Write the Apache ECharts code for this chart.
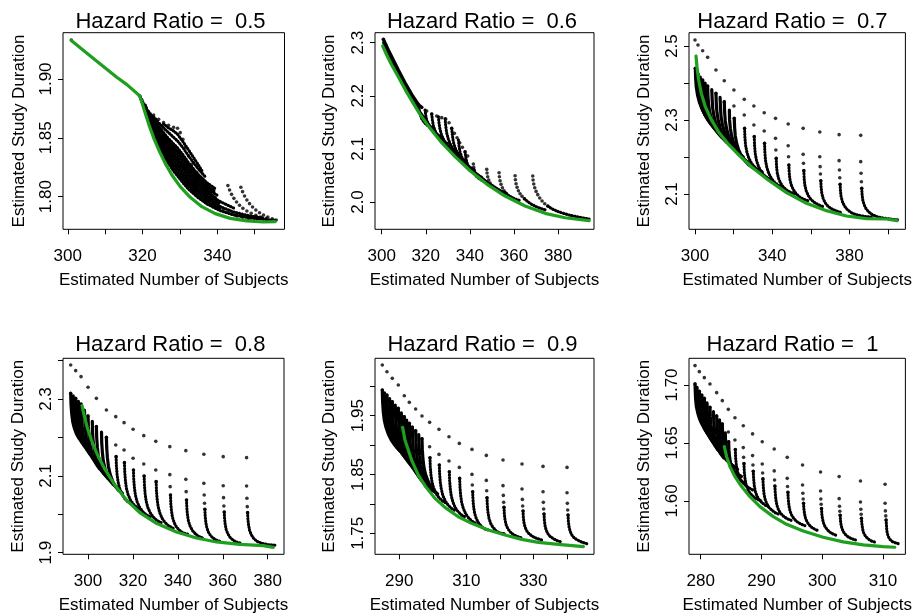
<!DOCTYPE html>
<html>
<head>
<meta charset="utf-8">
<script src="https://cdn.jsdelivr.net/npm/echarts@6/dist/echarts.min.js"></script>
<style>
html,body{margin:0;padding:0;background:#fff;}
#chart{width:914px;height:616px;}
</style>
</head>
<body>
<div id="chart"></div>
<script>
// ---------- panel meta ----------
const hazardRatios = ['0.5','0.6','0.7','0.8','0.9','1'];
const xRanges = [[298.72,357.97],[296.96,396.3],[296.9,409.0],[288.85,387.27],[282.75,348.1],[278.08,313.68]];
const yRanges = [[1.7723,1.9393],[1.9486,2.3188],[2.0046,2.536],[1.8958,2.4059],[1.7143,2.0476],[1.554,1.723]];
const xTicks = [[300,310,320,330,340,350],[300,320,340,360,380],[300,320,340,360,380,400],[300,320,340,360,380],[290,300,310,320,330,340],[280,290,300,310]];
const xTickLabels = [[300,320,340],[300,320,340,360,380],[300,340,380],[300,320,340,360,380],[290,310,330],[280,290,300,310]];
const yTicks = [[1.80,1.85,1.90],[2.0,2.1,2.2,2.3],[2.1,2.2,2.3,2.4,2.5],[1.9,2.0,2.1,2.2,2.3,2.4],[1.75,1.80,1.85,1.90,1.95,2.00],[1.60,1.65,1.70]];
const yTickLabels = [['1.80','1.85','1.90'],['2.0','2.1','2.2','2.3'],['2.1','2.3','2.5'],['1.9','2.1','2.3'],['1.75','1.85','1.95'],['1.60','1.65','1.70']];

// ---------- panel 1 (HR 0.5) ----------
const green1 = [[300.94,1.9326],[305.12,1.9218],[308.69,1.9127],[313.1,1.9014],[315.82,1.8952],[319.21,1.8858],[319.83,1.8802],[320.72,1.8708],[321.88,1.8595],[323.13,1.8487],[324.55,1.8383],[326.07,1.8283],[327.85,1.8184],[330.08,1.8085],[332.75,1.7995],[335.87,1.7915],[339.44,1.7856],[343.45,1.7816],[347.91,1.7794],[352.36,1.7785],[355.48,1.7788]];
const dots1 = [[300.94,1.9331],
[322.95,1.8694],[324.29,1.8657],[325.62,1.8629],[326.96,1.8606],[328.3,1.8589],[329.37,1.8581],[330.08,1.8544],[330.79,1.8487],[331.51,1.8419],[332.31,1.8346],[333.2,1.8275],[334.54,1.8204],[335.87,1.8153],
[337.21,1.8108],[337.66,1.8071],[338.1,1.8034],[338.64,1.8],[339.26,1.7969],[339.97,1.7941],[340.78,1.7915],[341.67,1.7893],[342.74,1.787],[343.89,1.7853],[345.23,1.7836],[346.75,1.7825],[348.35,1.7813],
[342.83,1.8094],[343.27,1.8057],[343.81,1.802],[344.43,1.7986],[345.14,1.7955],[345.94,1.7927],[346.84,1.7901],[347.91,1.7879],[349.06,1.7859],[350.31,1.7842],[351.65,1.7828],[353.07,1.7816],
[346.3,1.808],[346.75,1.8043],[347.28,1.8006],[347.91,1.7972],[348.62,1.7941],[349.42,1.7912],[350.31,1.7887],[351.29,1.7864],[352.36,1.7845],[353.52,1.7828],[354.68,1.7813],[355.75,1.7802]];
const band1 = [];
const runs1 = [
[[319.21,1.8858],[320.28,1.8765],[321.61,1.8646],[322.95,1.8533],[324.29,1.8442],[325.62,1.8357],[326.96,1.8283],[328.3,1.8218],[329.37,1.8176],[330.79,1.8119],[332.31,1.8063],[334.54,1.8],[337.21,1.7938],[340.78,1.7881],[344.34,1.7845],[348.8,1.7819],[353.25,1.7805],[355.75,1.7799]],
[[320.28,1.877],[321.61,1.8657],[322.95,1.855],[324.29,1.8462],[325.62,1.8381],[326.96,1.831],[328.3,1.8248],[329.37,1.8205],[330.79,1.8149],[332.31,1.8091],[334.54,1.8025],[337.21,1.796],[340.78,1.7898]],
[[319.39,1.885],[320.28,1.8776],[321.61,1.8669],[322.95,1.8567],[324.29,1.8482],[325.62,1.8405],[326.96,1.8337],[328.3,1.8278],[329.37,1.8235],[330.79,1.8179],[332.31,1.8119],[334.54,1.8051],[337.21,1.7983],[340.78,1.7915],[344.34,1.787],[348.8,1.7836],[352.36,1.7819]],
[[321.61,1.868],[322.95,1.8584],[324.29,1.8501],[325.62,1.8429],[326.96,1.8364],[328.3,1.8306],[329.37,1.8265],[330.79,1.8208],[332.31,1.8147],[334.54,1.8075],[337.21,1.8005],[340.78,1.7936]],
[[319.83,1.8822],[320.28,1.8788],[321.61,1.8691],[322.95,1.8601],[324.29,1.8521],[325.62,1.8453],[326.96,1.8391],[328.3,1.8334],[329.37,1.8295],[330.79,1.8238],[332.31,1.8176],[334.54,1.8099],[337.21,1.8028],[340.78,1.7958],[344.34,1.7904]],
[[321.61,1.87],[322.95,1.8616],[324.29,1.8541],[325.62,1.8476],[326.96,1.8416],[328.3,1.8362],[329.37,1.8324],[330.79,1.8268],[332.31,1.8205],[334.54,1.8125],[337.21,1.8051],[339.5,1.799]],
[[320.72,1.8779],[321.61,1.8708],[322.95,1.8632],[324.29,1.8561],[325.62,1.8499],[326.96,1.8442],[328.3,1.8391],[329.37,1.8354],[330.79,1.8298],[332.31,1.8233],[334.54,1.8151],[337.21,1.8074],[339.88,1.8014]],
[[322.95,1.8648],[324.29,1.8581],[325.62,1.8521],[326.96,1.8467],[328.3,1.842],[329.37,1.8384],[330.79,1.8327],[332.31,1.8261],[334.54,1.8175],[337.21,1.8097],[339.4,1.804]],
[[321.61,1.8725],[322.95,1.8663],[324.29,1.8601],[325.62,1.8544],[326.96,1.8493],[328.3,1.8448],[329.37,1.8414],[330.79,1.8357],[332.31,1.8289],[334.54,1.8199],[337.21,1.8119],[339.44,1.8068]],
[[322.95,1.868],[324.29,1.8629],[325.62,1.8584],[326.96,1.8544],[328.3,1.8504],[329.37,1.8473],[330.79,1.8417],[332.31,1.8346],[334.54,1.825],[336.76,1.817]],
[[325.62,1.8618],[326.96,1.8584],[328.3,1.8558],[329.37,1.853],[330.79,1.8468],[332.31,1.8397],[334.54,1.8289],[335.87,1.8221]]];

// ---------- panel 2 (HR 0.6) ----------
const green2 = [[300.45,2.2937],[302.27,2.2768],[304.54,2.258],[306.81,2.241],[308.32,2.2297],[310.59,2.2121],[313.61,2.1908],[317.39,2.165],[321.93,2.1387],[327.22,2.1117],[333.27,2.0853],[340.08,2.0589],[347.64,2.0338],[355.96,2.0112],[365.03,1.9924],[374.11,1.9786],[383.18,1.9704],[394.07,1.9648]];
const dots2 = [[300.76,2.3063],[301.21,2.3013],[301.81,2.2962],
[318.15,2.1782],[320.42,2.1713],[322.69,2.1657],[324.95,2.1619],[327.22,2.1588],[329.04,2.1562],[330.55,2.1493],[331.76,2.1387],[332.97,2.1293],[334.18,2.1211],[335.39,2.1117],[336.6,2.1029],[337.81,2.0947],[339.02,2.0866],
[341.59,2.0715],[341.74,2.0652],[342.04,2.059],[342.5,2.0533],[343.1,2.0483],
[347.64,2.0615],[347.79,2.0546],[348.09,2.0476],[348.55,2.0414],[349.15,2.0357],[349.91,2.0307],
[353.24,2.0552],[353.39,2.0476],[353.69,2.0401],[354.14,2.0332],[354.75,2.0269],[355.5,2.0213],[356.41,2.0163],
[360.5,2.0495],[360.65,2.042],[360.95,2.0345],[361.4,2.0276],[362.01,2.0213],[362.76,2.0156],[363.67,2.0106],[364.73,2.0062],
[368.51,2.0489],[368.66,2.0414],[368.97,2.0338],[369.42,2.0269],[370.03,2.02],[370.78,2.0138],[371.69,2.0075],[372.75,2.0018],[373.96,1.9968],[375.32,1.9924]];
const band2 = [
[[300.76,2.3063],[303.02,2.2862],[305.29,2.2674],[307.56,2.2485],[310.59,2.2247],[313.61,2.2027],[316.64,2.1839],[318.15,2.1782]],
[[300.91,2.3],[303.02,2.2818],[305.29,2.2623],[307.56,2.2435],[310.59,2.2159],[313.61,2.1945],[317.39,2.1688],[321.93,2.1424],[327.22,2.1154],[333.27,2.0891],[340.08,2.0627],[347.64,2.0376],[355.96,2.015],[362.01,2.0012]]];
const runs2 = [
[[316.64,2.1839],[316.94,2.1744],[317.39,2.1657],[318.0,2.1581],[318.9,2.1519],[320.11,2.1462],[321.63,2.1418],[323.44,2.138]],
[[319.66,2.1732],[319.96,2.1632],[320.42,2.1537],[321.17,2.1456],[322.23,2.138],[323.59,2.1318],[325.26,2.1267],[327.22,2.123]],
[[322.69,2.1657],[322.99,2.1544],[323.44,2.1437],[324.2,2.1343],[325.26,2.1261],[326.62,2.1192],[328.28,2.1136],[330.25,2.1092]],
[[325.71,2.1606],[326.01,2.1481],[326.47,2.1362],[327.22,2.1255],[328.28,2.1161],[329.64,2.1079],[331.31,2.1016],[333.27,2.0966]],
[[328.74,2.1569],[329.04,2.1431],[329.49,2.1299],[330.25,2.118],[331.31,2.1073],[332.67,2.0985],[334.33,2.0916],[336.3,2.086]],
[[331.76,2.1387],[332.06,2.1255],[332.52,2.1129],[333.27,2.1023],[334.33,2.0928],[335.69,2.0847],[337.36,2.0784],[339.32,2.0734]],
[[334.79,2.1167],[335.09,2.1048],[335.54,2.0941],[336.3,2.0847],[337.36,2.0765],[338.72,2.0696],[340.38,2.0646],[342.35,2.0602]],
[[337.81,2.0947],[338.11,2.0847],[338.57,2.0753],[339.32,2.0671],[340.38,2.0602],[341.74,2.0546],[343.41,2.0502],[345.37,2.0464]],
[[343.1,2.0483],[344.01,2.0445],[345.22,2.0414],[346.73,2.0382],[348.4,2.0351]],
[[349.91,2.0307],[350.97,2.0269],[352.33,2.0238],[353.99,2.0207],[355.96,2.0181]],
[[356.41,2.0163],[357.62,2.0119],[359.13,2.0081],[360.95,2.005],[363.07,2.0024]],
[[364.73,2.0062],[366.09,2.0012],[367.76,1.9962],[369.72,1.9918],[371.99,1.988],[374.41,1.9849]],
[[375.32,1.9924],[377.13,1.9874],[379.4,1.983],[381.97,1.9792],[385.0,1.9755],[388.48,1.9723],[392.26,1.9692],[394.07,1.9679]]];

// ---------- panel 3 (HR 0.7) ----------
const green3 = [[300.52,2.473],[301.03,2.4441],[301.9,2.4081],[303.28,2.3721],[305.34,2.336],[308.1,2.3045],[312.07,2.2685],[317.24,2.2351],[323.28,2.2027],[330.17,2.1694],[337.93,2.1378],[347.41,2.1036],[357.76,2.0748],[368.1,2.055],[378.45,2.0405],[388.79,2.0333],[399.14,2.0324],[404.66,2.0279]];
const dots3 = [[300.0,2.5162],[300.17,2.4396],[301.55,2.5027],[301.55,2.4243],[303.97,2.4874],[303.97,2.4081],[306.55,2.4694],[306.55,2.3919],
[310.86,2.4351],[310.86,2.3721],[315.17,2.4063],[315.17,2.3495],[320.17,2.3811],[320.17,2.3378],[320.34,2.3045],
[325.52,2.3559],[325.52,2.3135],[325.69,2.2775],[330.52,2.3378],[330.52,2.2865],[330.69,2.255],[335.86,2.3198],[335.86,2.2703],[336.03,2.2369],
[341.72,2.3045],[341.72,2.2505],[341.9,2.2189],[342.07,2.1964],
[348.28,2.2892],[348.28,2.2306],[348.45,2.2009],[348.62,2.1784],
[356.03,2.2775],[356.03,2.2072],[356.21,2.1829],[356.38,2.1631],
[364.66,2.2676],[364.66,2.2009],[364.83,2.1739],[365.0,2.1541],[365.17,2.136],
[374.66,2.2604],[374.66,2.1901],[374.83,2.1649],[375.0,2.1441],[375.17,2.1261],
[385.86,2.2586],[385.86,2.1874],[386.03,2.1559],[386.21,2.1333],[386.38,2.1153]];
const band3 = [
[[300.17,2.4396],[300.34,2.4126],[300.69,2.3883],[301.38,2.3658],[302.41,2.3459],[303.79,2.3279],[305.52,2.3117],[307.59,2.2973],[310.0,2.2847]],
[[300.85,2.432],[301.0,2.405],[301.4,2.381],[302.1,2.359],[303.1,2.339],[304.5,2.321],[306.2,2.305],[308.3,2.291],[310.7,2.279]],
[[301.55,2.4243],[301.72,2.3973],[302.07,2.373],[302.76,2.3514],[303.79,2.3315],[305.17,2.3135],[306.9,2.2982],[308.97,2.2847],[311.38,2.273]],
[[302.75,2.416],[302.9,2.389],[303.3,2.365],[304.0,2.343],[305.0,2.323],[306.4,2.306],[308.1,2.29],[310.2,2.277],[312.6,2.265]],
[[303.97,2.4081],[304.14,2.3811],[304.48,2.3568],[305.17,2.3351],[306.21,2.3153],[307.59,2.2982],[309.31,2.282],[311.38,2.2685],[313.79,2.2568]],
[[305.25,2.4],[305.4,2.373],[305.8,2.349],[306.5,2.327],[307.5,2.307],[308.9,2.29],[310.6,2.274],[312.7,2.26],[315.1,2.249]],
[[306.55,2.3919],[306.72,2.3649],[307.07,2.3405],[307.76,2.3189],[308.79,2.2991],[310.17,2.2811],[311.9,2.2658],[313.97,2.2523],[316.38,2.2405]],
[[308.7,2.382],[308.9,2.355],[309.2,2.331],[309.9,2.309],[310.9,2.289],[312.3,2.271],[314.0,2.256],[316.1,2.242],[318.5,2.23]],
[[310.86,2.3721],[311.03,2.345],[311.38,2.3207],[312.07,2.2982],[313.1,2.2784],[314.48,2.2613],[316.21,2.2459],[318.28,2.2324],[320.69,2.2207]],
[[313.0,2.361],[313.2,2.334],[313.5,2.31],[314.2,2.288],[315.3,2.268],[316.6,2.251],[318.4,2.235],[320.4,2.222],[322.8,2.21]],
[[315.17,2.3495],[315.34,2.3225],[315.69,2.2982],[316.38,2.2766],[317.41,2.2568],[318.79,2.2396],[320.52,2.2243],[322.59,2.2108],[325.0,2.2]],
[[317.8,2.327],[317.9,2.301],[318.3,2.278],[319.0,2.257],[320.0,2.238],[321.4,2.222],[323.1,2.208],[325.2,2.195],[327.6,2.185]],
[[320.34,2.3045],[320.52,2.2802],[320.86,2.2577],[321.55,2.2378],[322.59,2.2198],[323.97,2.2045],[325.69,2.191],[327.76,2.1793],[330.17,2.1703]]];
const runs3 = [
[[325.69,2.2775],[325.86,2.2532],[326.21,2.2315],[326.9,2.2126],[327.93,2.1964],[329.31,2.1829],[331.03,2.1721],[333.1,2.164],[335.52,2.1586]],
[[330.69,2.255],[330.86,2.2306],[331.21,2.209],[331.9,2.1901],[332.93,2.1739],[334.31,2.1604],[336.03,2.1495],[338.1,2.1414],[340.52,2.136]],
[[336.03,2.2369],[336.21,2.2117],[336.55,2.1901],[337.24,2.1712],[338.28,2.155],[339.66,2.1414],[341.38,2.1306],[343.45,2.1225],[345.86,2.1171]],
[[342.07,2.1964],[342.24,2.1757],[342.59,2.1577],[343.28,2.1423],[344.31,2.1297],[345.69,2.1189],[347.41,2.1108],[349.48,2.1045],[351.9,2.1]],
[[348.62,2.1784],[348.79,2.1586],[349.14,2.1405],[349.83,2.1252],[350.86,2.1126],[352.24,2.1018],[353.97,2.0928],[356.03,2.0865],[358.45,2.082]],
[[356.38,2.1631],[356.55,2.1423],[356.9,2.1243],[357.59,2.109],[358.62,2.0964],[360.0,2.0856],[361.72,2.0775],[363.79,2.0712],[366.38,2.0658]],
[[365.17,2.136],[365.34,2.118],[365.69,2.1018],[366.38,2.0883],[367.41,2.0766],[368.79,2.0676],[370.52,2.0604],[372.76,2.055],[375.34,2.0505]],
[[375.17,2.1261],[375.34,2.109],[375.69,2.0928],[376.38,2.0793],[377.41,2.0676],[378.79,2.0586],[380.69,2.0505],[382.93,2.045],[385.69,2.0414],[388.79,2.0387],[392.24,2.0369]],
[[386.38,2.1153],[386.55,2.0991],[386.9,2.0838],[387.59,2.0712],[388.62,2.0604],[390.0,2.0514],[391.9,2.0441],[394.31,2.0387],[397.41,2.0351],[401.21,2.0324],[405.69,2.0297]]];

// ---------- panel 4 (HR 0.8) ----------
const green4 = [[297.32,2.2827],[298.22,2.2584],[299.55,2.228],[301.49,2.1933],[304.01,2.1569],[307.43,2.1178],[311.89,2.0762],[317.09,2.0371],[323.04,2.0042],[330.47,1.9764],[339.39,1.9539],[348.31,1.9383],[357.23,1.9279],[367.63,1.9218],[378.04,1.9183],[382.5,1.914]];
const dots4 = [[292.27,2.3885],[292.27,2.3147],[294.5,2.3737],[294.5,2.3017],[296.88,2.3581],[296.88,2.287],[300.0,2.3304],[300.0,2.2558],
[303.72,2.3017],[303.72,2.228],[308.18,2.2714],[308.18,2.2002],[312.34,2.254],[312.34,2.1803],[312.49,2.1499],
[316.05,2.2384],[316.05,2.1673],[316.2,2.1343],[320.07,2.2211],[320.07,2.1456],[320.22,2.1152],
[324.82,2.2046],[324.82,2.1308],[324.97,2.0996],[330.17,2.1898],[330.17,2.1152],[330.32,2.0849],
[336.42,2.176],[336.42,2.1031],[336.57,2.0718],[336.72,2.0502],
[343.55,2.1655],[343.55,2.0909],[343.7,2.0588],[343.85,2.0371],
[351.58,2.156],[351.58,2.0805],[351.73,2.0502],[351.88,2.0285],[352.03,2.0129],
[360.2,2.1499],[360.2,2.0744],[360.35,2.0432],[360.5,2.0215],[360.65,2.0059],
[370.61,2.1473],[370.61,2.0736],[370.76,2.0415],[370.91,2.0198],[371.05,2.0042]];
const band4 = [
[[292.27,2.3147],[292.42,2.2861],[292.72,2.2618],[293.16,2.241],[293.91,2.2237],[294.8,2.2098],[295.99,2.1976],[297.32,2.1881],[298.96,2.1803]],
[[293.4,2.308],[293.5,2.28],[293.8,2.255],[294.3,2.234],[295.0,2.215],[295.9,2.2],[297.1,2.188],[298.4,2.178],[300.1,2.17]],
[[294.5,2.3017],[294.65,2.2731],[294.95,2.248],[295.39,2.2263],[296.14,2.2072],[297.03,2.1916],[298.22,2.1786],[299.55,2.1681],[301.19,2.1595]],
[[295.7,2.294],[295.8,2.266],[296.1,2.24],[296.6,2.218],[297.3,2.199],[298.2,2.182],[299.4,2.169],[300.7,2.158],[302.4,2.149]],
[[296.88,2.287],[297.03,2.2584],[297.32,2.2323],[297.77,2.2098],[298.51,2.1898],[299.41,2.1733],[300.59,2.1586],[301.93,2.1473],[303.57,2.1378]],
[[298.4,2.271],[298.6,2.243],[298.9,2.217],[299.3,2.195],[300.1,2.175],[301.0,2.159],[302.2,2.144],[303.5,2.133],[305.1,2.124]],
[[300.0,2.2558],[300.15,2.228],[300.45,2.202],[300.89,2.1794],[301.64,2.1603],[302.53,2.1439],[303.72,2.13],[305.05,2.1187],[306.69,2.11]],
[[301.9,2.242],[302.0,2.214],[302.3,2.188],[302.8,2.165],[303.5,2.146],[304.4,2.13],[305.6,2.117],[306.9,2.106],[308.5,2.098]],
[[303.72,2.228],[303.86,2.1994],[304.16,2.1733],[304.61,2.1508],[305.35,2.1317],[306.24,2.1161],[307.43,2.1031],[308.77,2.0935],[310.41,2.0866]],
[[306.0,2.214],[306.1,2.186],[306.4,2.16],[306.8,2.138],[307.6,2.118],[308.5,2.102],[309.7,2.088],[311.1,2.078],[312.8,2.07]],
[[308.18,2.2002],[308.32,2.1725],[308.62,2.1473],[309.07,2.1248],[309.81,2.1048],[310.85,2.0875],[312.04,2.0736],[313.53,2.0623],[315.31,2.0545]]];
const runs4 = [
[[312.49,2.1499],[312.63,2.1256],[312.93,2.1031],[313.38,2.084],[314.12,2.0666],[315.16,2.0519],[316.35,2.0406],[317.84,2.0319],[319.62,2.0259]],
[[316.2,2.1343],[316.35,2.1092],[316.65,2.0866],[317.09,2.0675],[317.84,2.051],[318.88,2.0371],[320.22,2.0259],[321.85,2.0172],[323.78,2.0111]],
[[320.22,2.1152],[320.36,2.0901],[320.66,2.0684],[321.11,2.0493],[321.85,2.0328],[322.89,2.0189],[324.23,2.0077],[325.86,1.999],[327.8,1.9929]],
[[324.97,2.0996],[325.12,2.0753],[325.42,2.0536],[325.86,2.0345],[326.61,2.0181],[327.65,2.0042],[328.99,1.9929],[330.62,1.9842],[332.55,1.9782]],
[[330.32,2.0849],[330.47,2.0606],[330.77,2.0389],[331.22,2.0198],[331.96,2.0033],[333.0,1.9894],[334.34,1.9782],[335.97,1.9695],[337.9,1.9634]],
[[336.72,2.0502],[336.86,2.0276],[337.16,2.0085],[337.61,1.992],[338.35,1.9782],[339.39,1.9669],[340.73,1.9582],[342.36,1.9513],[344.3,1.9487]],
[[343.85,2.0371],[344.0,2.0155],[344.3,1.9972],[344.74,1.9816],[345.49,1.9686],[346.53,1.9573],[347.86,1.9487],[349.5,1.9417],[351.43,1.9374]],
[[352.03,2.0129],[352.17,1.9946],[352.47,1.9782],[352.92,1.9643],[353.66,1.953],[354.7,1.9435],[356.04,1.9365],[357.67,1.9313],[359.61,1.9287]],
[[360.65,2.0059],[360.8,1.9886],[361.1,1.973],[361.54,1.96],[362.29,1.9487],[363.33,1.9391],[364.66,1.9322],[366.3,1.927],[368.23,1.9244]],
[[371.05,2.0042],[371.2,1.9868],[371.5,1.9712],[371.94,1.9582],[372.69,1.9469],[373.73,1.9374],[375.21,1.9296],[377.3,1.9244],[380.27,1.9209],[383.69,1.9192]]];

// ---------- panel 5 (HR 0.9) ----------
const green5 = [[290.99,1.9302],[291.69,1.9086],[293.68,1.8746],[295.67,1.8491],[297.66,1.831],[300.65,1.8094],[303.63,1.7941],[307.61,1.7782],[311.59,1.7669],[316.57,1.7556],[321.54,1.747],[326.52,1.7397],[331.49,1.7346],[337.46,1.7312],[344.93,1.7272]];
const dots5 = [[284.93,2.0362],[284.93,1.9937],[286.32,2.0248],[286.32,1.9851],[287.91,2.0135],[287.91,1.9738],[289.7,2.0022],[289.7,1.9625],
[291.49,1.984],[291.49,1.9483],[292.99,1.9727],[292.99,1.937],[294.88,1.9613],[294.88,1.9245],[296.77,1.9494],[296.77,1.9109],
[299.05,1.9387],[299.05,1.8973],[299.15,1.8786],[301.84,1.9268],[301.84,1.8842],[301.94,1.8661],
[304.83,1.9143],[304.83,1.8729],[304.93,1.8548],[307.91,1.9029],[307.91,1.8621],[308.01,1.8434],
[311.69,1.8927],[311.69,1.8502],[311.79,1.8321],[311.89,1.8207],
[315.97,1.8825],[315.97,1.84],[316.07,1.8224],[316.17,1.8105],
[320.95,1.8746],[320.95,1.831],[321.04,1.8145],[321.14,1.8026],[321.24,1.7941],
[326.62,1.8678],[326.62,1.8253],[326.72,1.8077],[326.82,1.7964],[326.92,1.7879],
[332.89,1.8638],[332.89,1.8207],[332.99,1.8026],[333.08,1.7913],[333.18,1.7828],
[340.05,1.8621],[340.05,1.819],[340.15,1.8009],[340.25,1.7896],[340.35,1.7811]];
const band5 = [
[[284.93,1.9937],[285.02,1.9738],[285.22,1.9568],[285.52,1.9426],[286.02,1.9302],[286.72,1.9188],[287.61,1.9086],[288.71,1.8995],[290.0,1.8916]],
[[285.6,1.989],[285.7,1.9695],[285.9,1.9525],[286.2,1.938],[286.7,1.926],[287.4,1.9145],[288.3,1.9045],[289.4,1.895],[290.7,1.887]],
[[286.32,1.9851],[286.42,1.9653],[286.62,1.9483],[286.92,1.9341],[287.41,1.9217],[288.11,1.9103],[289.0,1.9001],[290.1,1.891],[291.39,1.8831]],
[[287.1,1.979],[287.2,1.96],[287.4,1.943],[287.7,1.928],[288.2,1.916],[288.9,1.904],[289.8,1.894],[290.9,1.885],[292.2,1.877]],
[[287.91,1.9738],[288.01,1.954],[288.21,1.937],[288.51,1.9228],[289.0,1.9098],[289.7,1.8984],[290.6,1.8882],[291.69,1.8791],[292.99,1.8712]],
[[288.8,1.968],[288.9,1.948],[289.1,1.931],[289.4,1.917],[289.9,1.904],[290.6,1.892],[291.5,1.881],[292.6,1.872],[293.9,1.864]],
[[289.7,1.9625],[289.8,1.9426],[290.0,1.9256],[290.3,1.9109],[290.8,1.8973],[291.49,1.8854],[292.39,1.8746],[293.48,1.8655],[294.78,1.8576]],
[[290.6,1.955],[290.7,1.9355],[290.9,1.9185],[291.2,1.904],[291.7,1.89],[292.4,1.878],[293.3,1.8675],[294.4,1.8585],[295.7,1.8505]],
[[291.49,1.9483],[291.59,1.9285],[291.79,1.9115],[292.09,1.8967],[292.59,1.8831],[293.28,1.8712],[294.18,1.8604],[295.27,1.8514],[296.57,1.8434]],
[[292.2,1.9425],[292.3,1.923],[292.5,1.906],[292.8,1.891],[293.3,1.877],[294.0,1.865],[294.9,1.854],[296.0,1.845],[297.3,1.837]],
[[292.99,1.937],[293.08,1.9171],[293.28,1.9001],[293.58,1.8848],[294.08,1.8712],[294.78,1.8587],[295.67,1.848],[296.77,1.8389],[298.06,1.831]],
[[293.9,1.931],[294.0,1.911],[294.2,1.894],[294.5,1.878],[295.0,1.865],[295.7,1.853],[296.6,1.843],[297.7,1.834],[298.9,1.827]],
[[294.88,1.9245],[294.98,1.9046],[295.17,1.8871],[295.47,1.8718],[295.97,1.8587],[296.67,1.8474],[297.56,1.8378],[298.66,1.8293],[299.75,1.8224]],
[[295.8,1.918],[295.9,1.899],[296.1,1.882],[296.4,1.867],[296.9,1.854],[297.6,1.843],[298.5,1.834],[299.5,1.826],[300.6,1.82]],
[[296.77,1.9109],[296.87,1.8927],[297.06,1.8763],[297.36,1.8621],[297.86,1.8497],[298.56,1.8389],[299.35,1.8298],[300.35,1.8224],[301.44,1.8168]]];
const runs5 = [
[[299.15,1.8786],[299.25,1.8633],[299.45,1.8491],[299.75,1.8372],[300.25,1.827],[300.95,1.8179],[301.84,1.8105],[302.94,1.8049],[304.13,1.8009]],
[[301.94,1.8661],[302.04,1.8508],[302.24,1.8366],[302.54,1.8247],[303.03,1.8139],[303.73,1.8049],[304.63,1.7975],[305.72,1.7918],[307.01,1.7879]],
[[304.93,1.8548],[305.02,1.8395],[305.22,1.8253],[305.52,1.8134],[306.02,1.8026],[306.72,1.7935],[307.61,1.7862],[308.71,1.7805],[310.0,1.7765]],
[[308.01,1.8434],[308.11,1.8281],[308.31,1.8145],[308.61,1.8026],[309.1,1.7924],[309.8,1.7833],[310.7,1.776],[311.79,1.7703],[313.08,1.7663]],
[[311.89,1.8207],[311.99,1.8066],[312.19,1.7941],[312.49,1.7839],[312.99,1.7748],[313.68,1.7675],[314.58,1.7612],[315.67,1.7567],[317.06,1.7556]],
[[316.17,1.8105],[316.27,1.7969],[316.47,1.785],[316.77,1.7754],[317.26,1.7669],[317.96,1.7601],[318.86,1.7544],[319.95,1.7505],[321.34,1.7493]],
[[321.24,1.7941],[321.34,1.7828],[321.54,1.7731],[321.84,1.7652],[322.34,1.7584],[323.03,1.7527],[323.93,1.7482],[325.12,1.7448],[326.52,1.742]],
[[326.92,1.7879],[327.01,1.7771],[327.21,1.768],[327.51,1.7607],[328.01,1.7544],[328.71,1.7493],[329.7,1.7448],[331.0,1.7414],[332.49,1.7386]],
[[333.18,1.7828],[333.28,1.7726],[333.48,1.7635],[333.78,1.7561],[334.28,1.7499],[334.98,1.7448],[335.97,1.7408],[337.16,1.7374],[338.46,1.7351]],
[[340.35,1.7811],[340.45,1.7703],[340.65,1.7612],[340.95,1.7539],[341.44,1.7476],[342.14,1.7425],[343.13,1.7386],[344.43,1.7351],[346.22,1.7317]]];

// ---------- panel 6 (HR 1) ----------
const green6 = [[283.89,1.6468],[284.27,1.6382],[284.82,1.6296],[285.64,1.621],[286.74,1.6124],[288.1,1.6037],[289.75,1.5951],[291.94,1.5865],[294.13,1.5799],[296.87,1.5741],[300.15,1.5687],[303.44,1.5647],[306.73,1.5621],[310.01,1.5606],[311.93,1.5601]];
const dots6 = [[310.34,1.6144],[310.34,1.598],[310.39,1.5914],[310.45,1.5871],[310.5,1.5836],
[306.29,1.6172],[306.29,1.5991],[306.35,1.5928],[306.4,1.5885],[306.45,1.5851],
[302.78,1.621],[302.78,1.602],[302.84,1.5954],[302.89,1.5911],[302.95,1.5876],
[299.72,1.625],[299.72,1.6086],[299.77,1.6017],[299.82,1.5971],[299.88,1.5934],
[296.76,1.631],[296.76,1.6138],[296.81,1.6066],[296.87,1.6017],[296.92,1.598],
[294.24,1.6376],[294.24,1.6195],[294.29,1.6124],[294.35,1.6075],
[292.1,1.6448],[292.1,1.6259],[292.16,1.6181],[292.21,1.6129],
[290.13,1.6511],[290.13,1.6319],[290.19,1.6241],[290.24,1.619],
[288.54,1.6578],[288.54,1.6391],[288.6,1.631],[288.65,1.6256],
[287.01,1.6649],[287.01,1.646],[287.06,1.6376],[287.12,1.6322],
[285.64,1.6718],[285.64,1.6526],[285.7,1.6443],
[284.55,1.679],[284.55,1.6595],[284.6,1.6511],
[283.56,1.6865],[283.56,1.6664],[282.63,1.6934],[282.63,1.6733],[281.53,1.7009],[281.53,1.6807],
[280.6,1.7063],[280.6,1.6885],[279.78,1.7115],[279.78,1.6945],[279.07,1.7167],[279.07,1.7009]];
const band6 = [
[[279.07,1.7009],[279.12,1.6934],[279.18,1.6871],[279.29,1.6813],[279.51,1.6761],[279.78,1.6713],[280.16,1.6667],[280.6,1.6624],[281.1,1.6583]],
[[279.4,1.698],[279.45,1.69],[279.55,1.6835],[279.7,1.6775],[279.9,1.6725],[280.2,1.6675],[280.6,1.663],[281.05,1.6585],[281.55,1.6545]],
[[279.78,1.6945],[279.84,1.6871],[279.95,1.6802],[280.11,1.6741],[280.33,1.6687],[280.66,1.6638],[281.04,1.6592],[281.48,1.6549],[281.97,1.6509]],
[[280.2,1.6915],[280.25,1.684],[280.35,1.677],[280.5,1.671],[280.75,1.6655],[281.05,1.6605],[281.45,1.656],[281.9,1.6515],[282.4,1.6475]],
[[280.6,1.6885],[280.66,1.6807],[280.77,1.6736],[280.93,1.6675],[281.15,1.6621],[281.48,1.6572],[281.86,1.6526],[282.3,1.6483],[282.79,1.6443]],
[[281.05,1.6845],[281.1,1.6765],[281.2,1.6695],[281.4,1.6635],[281.6,1.658],[281.95,1.6535],[282.3,1.649],[282.75,1.645],[283.3,1.641]],
[[281.53,1.6807],[281.59,1.6727],[281.7,1.6655],[281.86,1.6595],[282.08,1.6543],[282.41,1.6494],[282.79,1.6451],[283.23,1.6411],[283.78,1.6371]],
[[282.1,1.677],[282.15,1.669],[282.25,1.662],[282.4,1.656],[282.65,1.6505],[282.95,1.646],[283.35,1.6415],[283.8,1.638],[284.4,1.6345]],
[[282.63,1.6733],[282.68,1.6652],[282.79,1.658],[282.96,1.652],[283.18,1.6468],[283.5,1.6422],[283.89,1.6382],[284.38,1.6348],[284.98,1.6319]],
[[283.1,1.67],[283.15,1.662],[283.25,1.6545],[283.45,1.6487],[283.65,1.6435],[283.97,1.639],[284.4,1.6355],[284.9,1.632],[285.5,1.6295]],
[[283.56,1.6664],[283.61,1.6583],[283.72,1.6511],[283.89,1.6454],[284.11,1.6402],[284.44,1.6359],[284.87,1.6325],[285.42,1.6296],[286.08,1.6273]],
[[284.05,1.6588],[284.1,1.651],[284.25,1.6443],[284.4,1.639],[284.65,1.6337],[285.0,1.6296],[285.45,1.6262],[286.0,1.6234],[286.7,1.6212]],
[[284.6,1.6511],[284.65,1.644],[284.76,1.6376],[284.93,1.6322],[285.2,1.6273],[285.59,1.6233],[286.08,1.6198],[286.63,1.6172],[287.28,1.6152]]];
const runs6 = [
[[310.5,1.5836],[310.56,1.5793],[310.61,1.575],[310.72,1.5716],[310.89,1.569],[311.16,1.5667],[311.54,1.5649],[312.09,1.5638],[312.75,1.5629]],
[[306.45,1.5851],[306.51,1.5807],[306.62,1.5767],[306.73,1.5736],[306.94,1.571],[307.27,1.5687],[307.71,1.5667],[308.2,1.5652],[308.75,1.5644]],
[[302.95,1.5876],[303.0,1.583],[303.11,1.579],[303.27,1.5759],[303.49,1.5733],[303.82,1.571],[304.26,1.569],[304.81,1.5675],[305.47,1.5664]],
[[299.88,1.5934],[299.93,1.5888],[300.04,1.5845],[300.21,1.581],[300.43,1.5782],[300.76,1.5756],[301.19,1.5733],[301.74,1.5716],[302.4,1.5701]],
[[296.92,1.598],[296.98,1.5931],[297.09,1.5888],[297.25,1.5853],[297.47,1.5822],[297.8,1.5796],[298.24,1.5773],[298.78,1.5756],[299.44,1.5741]],
[[294.35,1.6075],[294.4,1.6017],[294.51,1.5963],[294.68,1.5917],[294.95,1.5879],[295.33,1.5848],[295.83,1.5822],[296.43,1.5802],[297.14,1.5787]],
[[292.21,1.6129],[292.27,1.6066],[292.38,1.6009],[292.54,1.5963],[292.81,1.5922],[293.2,1.5891],[293.69,1.5865],[294.29,1.5845],[295.01,1.583]],
[[290.24,1.619],[290.3,1.6124],[290.41,1.6066],[290.57,1.602],[290.84,1.598],[291.23,1.5945],[291.72,1.592],[292.32,1.5897],[293.03,1.5882]],
[[288.65,1.6256],[288.71,1.619],[288.82,1.6132],[288.98,1.6083],[289.26,1.6043],[289.64,1.6009],[290.13,1.5983],[290.73,1.596],[291.39,1.5945]],
[[287.12,1.6322],[287.17,1.6256],[287.28,1.6195],[287.45,1.6147],[287.72,1.6103],[288.11,1.6069],[288.6,1.604],[289.2,1.6017],[289.86,1.6003]],
[[285.7,1.6443],[285.75,1.6374],[285.86,1.631],[286.02,1.6259],[286.3,1.6213],[286.68,1.6175],[287.17,1.6144],[287.72,1.6121],[288.54,1.6095]]];

const greens = [green1,green2,green3,green4,green5,green6];
const dotSets = [dots1,dots2,dots3,dots4,dots5,dots6];
const bandSets = [band1,band2,band3,band4,band5,band6];
const runSets = [runs1,runs2,runs3,runs4,runs5,runs6];

// ---------- layout (pixels) ----------
const gridBoxes = [[63,32.7,221.5,196.6],[375,32.7,219,196.6],[689,32.7,216.7,196.6],[63,358.3,221,196],[375,358.3,219,196],[689,358.3,216.7,196]];
const titleCenters = [[170.5,10.5],[482,10.5],[792.4,10.5],[170.3,333.6],[482.5,333.6],[792.5,333.6]];
const yNameGaps = [35,37,36,36.5,37,36.5];

const FONT = "'Liberation Sans', Arial, Helvetica, sans-serif";
const GREEN = '#1f9f1f';

const grid = [], xAxis = [], yAxis = [], series = [], graphic = [];
for (let p = 0; p < 6; p++) {
  const [l,t,w,h] = gridBoxes[p];
  grid.push({left:l, top:t, width:w, height:h, show:true, borderColor:'#000', borderWidth:1, backgroundColor:'transparent'});
  graphic.push({type:'text', x:titleCenters[p][0], y:titleCenters[p][1], silent:true,
    style:{text:'Hazard Ratio =  ' + hazardRatios[p], align:'center', verticalAlign:'top',
      font:"22px 'Liberation Sans', Arial, Helvetica, sans-serif", fill:'#000'}});
  xAxis.push({type:'value', gridIndex:p, min:xRanges[p][0], max:xRanges[p][1],
    axisLine:{show:false}, splitLine:{show:false},
    axisTick:{show:true, inside:false, length:5, customValues:xTicks[p], lineStyle:{color:'#000', width:1}},
    axisLabel:{show:true, customValues:xTickLabels[p], margin:18.5, color:'#000', fontFamily:FONT, fontSize:17, formatter:v=>String(Math.round(v))},
    name:'Estimated Number of Subjects', nameLocation:'middle', nameGap:42.5,
    nameTextStyle:{fontFamily:FONT, fontSize:17, color:'#000'}});
  const ylab = yTickLabels[p];
  yAxis.push({type:'value', gridIndex:p, min:yRanges[p][0], max:yRanges[p][1],
    axisLine:{show:false}, splitLine:{show:false},
    axisTick:{show:true, inside:false, length:5, customValues:yTicks[p], lineStyle:{color:'#000', width:1}},
    axisLabel:{show:true, customValues:ylab.map(Number), margin:8.5, rotate:90, align:'center', verticalAlign:'bottom',
      color:'#000', fontFamily:FONT, fontSize:17,
      formatter:v=>{ let best = ylab[0]; let d = 1e9; ylab.forEach(s=>{ const e = Math.abs(Number(s)-v); if (e<d){d=e;best=s;} }); return best; }},
    name:'Estimated Study Duration', nameLocation:'middle', nameGap:yNameGaps[p], nameRotate:90,
    nameTextStyle:{fontFamily:FONT, fontSize:17, color:'#000'}});

  bandSets[p].forEach(run => series.push({type:'line', xAxisIndex:p, yAxisIndex:p, data:run, symbol:'none', silent:true, z:2,
    lineStyle:{color:'#000', width:3.2, cap:'round', join:'round'}}));
  runSets[p].forEach(run => series.push({type:'line', xAxisIndex:p, yAxisIndex:p, data:run, symbol:'none', silent:true, z:2,
    lineStyle:{color:'#000', width:3.1, cap:'round', join:'round', type:[0.5,2.4]}}));
  series.push({type:'scatter', xAxisIndex:p, yAxisIndex:p, data:dotSets[p], symbol:'circle', symbolSize:3.6, silent:true, z:3,
    itemStyle:{color:'#000'}});
  series.push({type:'line', xAxisIndex:p, yAxisIndex:p, data:greens[p], symbol:'none', silent:true, z:5,
    lineStyle:{color:GREEN, width:3.2, cap:'round', join:'round'}});
}

const chart = echarts.init(document.getElementById('chart'), null, {renderer:'canvas'});
chart.setOption({animation:false, backgroundColor:'#fff', grid, xAxis, yAxis, series, graphic});
</script>
</body>
</html>
